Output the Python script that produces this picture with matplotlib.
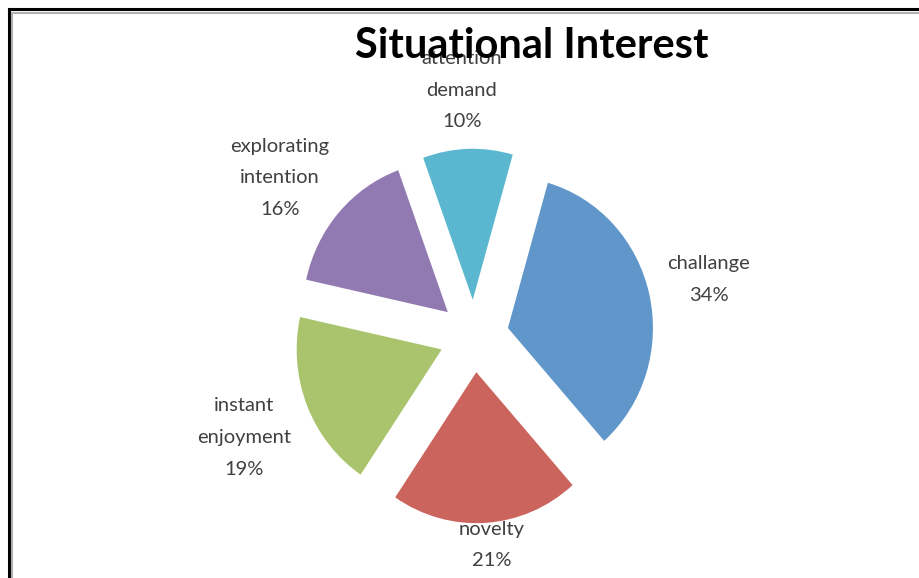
import numpy as np
import matplotlib.pyplot as plt
from matplotlib.lines import Line2D

# 数据
names = ['attention\ndemand', 'challange', 'novelty', 'instant\nenjoyment', 'exploring\nintention']
names[4] = 'explor' + 'ating\nintention'
values = [10, 34, 21, 19, 16]
colors = ['#5BB7D0', '#6096C9', '#CB645C', '#A9C46C', '#917AB1']

# 标签位置 (角度: 顺时针从顶部, 距离: 半径倍数)
label_angle = [-3, 77, 175, 247, 308]
label_dist = [1.63, 1.66, 1.39, 1.72, 1.70]

fig = plt.figure(figsize=(9.2, 5.78), dpi=100)
ax = fig.add_axes([0, 0, 1, 1])

ax.pie(values, colors=colors, startangle=110, counterclock=False,
       explode=[0.24] * len(values), radius=1.0,
       wedgeprops=dict(linewidth=0))

for name, v, a, d in zip(names, values, label_angle, label_dist):
    t = np.deg2rad(a)
    ax.text(d * np.sin(t), d * np.cos(t), f'{name}\n{v}%', ha='center', va='center',
            fontsize=14.5, color='#404040', family='Lato', linespacing=2.05)

# 椭圆形饼图 (竖向略长)
sx, sy = 145, 151
ax.set_xlim(-474 / sx, (920 - 474) / sx)
ax.set_ylim(-(578 - 336) / sy, 336 / sy)
ax.set_aspect('auto')
ax.axis('off')

fig.text(532 / 920, 1 - 46 / 578, 'Situational Interest', ha='center', va='center',
         fontsize=30, fontweight='bold', family='Lato', color='black')

# 边框
fig.add_artist(Line2D([9 / 920, 1], [1 - 9 / 578] * 2, color='black', lw=2.2))
fig.add_artist(Line2D([9 / 920] * 2, [0, 1 - 9 / 578], color='black', lw=2.2))
fig.add_artist(Line2D([12.5 / 920, 1], [1 - 13 / 578] * 2, color='#B0B0B0', lw=1.5))
fig.add_artist(Line2D([12.5 / 920] * 2, [0, 1 - 13 / 578], color='#B0B0B0', lw=1.5))

fig.savefig('out.png', dpi=100)
